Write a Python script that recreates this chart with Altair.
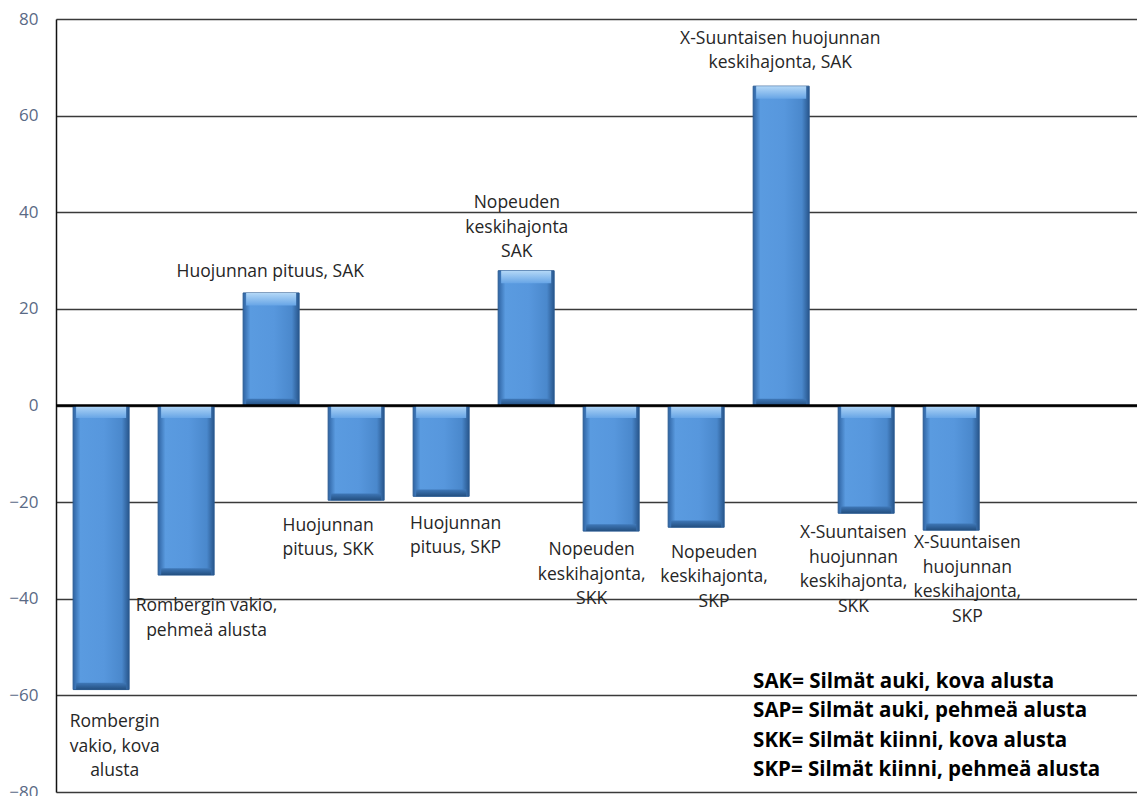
import altair as alt
import pandas as pd

# ---- data ----
positions = [1, 2, 3, 4, 5, 6, 7, 8, 9, 10, 11]
values = [-58.8, -35.1, 23.3, -19.6, -18.8, 27.9, -26.0, -25.2, 66.1, -22.3, -25.8]
labels = [
    ["Rombergin", "vakio, kova", "alusta"],
    ["Rombergin vakio,", "pehmeä alusta"],
    ["Huojunnan pituus, SAK"],
    ["Huojunnan", "pituus, SKK"],
    ["Huojunnan", "pituus, SKP"],
    ["Nopeuden", "keskihajonta", "SAK"],
    ["Nopeuden", "keskihajonta,", "SKK"],
    ["Nopeuden", "keskihajonta,", "SKP"],
    ["X-Suuntaisen huojunnan", "keskihajonta, SAK"],
    ["X-Suuntaisen", "huojunnan", "keskihajonta,", "SKK"],
    ["X-Suuntaisen", "huojunnan", "keskihajonta,", "SKP"],
]
# label anchor (category units, value units) of first text line
label_x = [1.16, 2.24, 2.99, 3.67, 5.17, 5.89, 6.77, 8.21, 8.99, 9.85, 11.19]
label_y = [-63.65, -39.65, 29.5, -23.05, -22.65, 43.75, -28.05, -28.65, 77.75, -24.55, -26.65]

legend_lines = [
    "SAK= Silmät auki, kova alusta",
    "SAP= Silmät auki, pehmeä alusta",
    "SKK= Silmät kiinni, kova alusta",
    "SKP= Silmät kiinni, pehmeä alusta",
]
legend_x = [8.67]
legend_y = [-55.2]

y_ticks = [-80, -60, -40, -20, 0, 20, 40, 60, 80]

FONT = "Open Sans"

bars_df = pd.DataFrame({"pos": positions, "value": values})
labels_df = pd.DataFrame({"lx": label_x, "ly": label_y, "text": labels})
legend_df = pd.DataFrame({"lx": legend_x, "ly": legend_y, "text": [legend_lines]})
zero_df = pd.DataFrame({"y": [0]})

xscale = alt.Scale(domain=[0.528, 13.127], nice=False, zero=False)
yscale = alt.Scale(domain=[-80, 80], nice=False)

bar_gradient = alt.Gradient(
    gradient="linear",
    x1=0, x2=1, y1=0, y2=0,
    stops=[
        alt.GradientStop(offset=0, color="#2f64a3"),
        alt.GradientStop(offset=0.13, color="#5a9be0"),
        alt.GradientStop(offset=0.55, color="#5797dd"),
        alt.GradientStop(offset=0.87, color="#4a88cc"),
        alt.GradientStop(offset=1, color="#28568c"),
    ],
)
top_gradient = alt.Gradient(
    gradient="linear",
    x1=0, x2=0, y1=0, y2=1,
    stops=[
        alt.GradientStop(offset=0, color="#b4d8f7"),
        alt.GradientStop(offset=1, color="#67a5e6"),
    ],
)
bottom_gradient = alt.Gradient(
    gradient="linear",
    x1=0, x2=0, y1=0, y2=1,
    stops=[
        alt.GradientStop(offset=0, color="#3f78b8"),
        alt.GradientStop(offset=1, color="#234f80"),
    ],
)

base = alt.Chart(bars_df)

bars = base.mark_bar(
    size=56, color=bar_gradient, stroke="#2a5b93", strokeWidth=1
).encode(
    x=alt.X("pos:Q", scale=xscale, axis=None),
    y=alt.Y(
        "value:Q",
        scale=yscale,
        axis=alt.Axis(
            values=y_ticks,
            title=None,
            grid=True,
            gridColor="#3a3a3a",
            gridWidth=1.3,
            ticks=False,
            domain=True,
            domainColor="#111111",
            domainWidth=1.5,
            labelFont=FONT,
            labelFontSize=17,
            labelColor="#5a6a86",
            labelPadding=18,
        ),
    ),
)

# bevel highlight at the top end and shade at the bottom end of each bar
top_band = base.transform_calculate(
    t="max(datum.value, 0)", t2="max(datum.value, 0) - 2.6"
).mark_bar(size=50, color=top_gradient).encode(
    x=alt.X("pos:Q", scale=xscale),
    y=alt.Y("t:Q", scale=yscale),
    y2="t2:Q",
)
bottom_band = base.transform_calculate(
    b="min(datum.value, 0)", b2="min(datum.value, 0) + 1.4"
).mark_bar(size=50, color=bottom_gradient).encode(
    x=alt.X("pos:Q", scale=xscale),
    y=alt.Y("b2:Q", scale=yscale),
    y2="b:Q",
)

zero_rule = alt.Chart(zero_df).mark_rule(color="#000000", strokeWidth=2.6).encode(
    y=alt.Y("y:Q", scale=yscale)
)

texts = alt.Chart(labels_df).mark_text(
    font=FONT, fontSize=17.5, color="#262626", align="center", baseline="top",
    lineHeight=24.5,
).encode(
    x=alt.X("lx:Q", scale=xscale),
    y=alt.Y("ly:Q", scale=yscale),
    text="text",
)

legend = alt.Chart(legend_df).mark_text(
    font=FONT, fontSize=20.5, fontWeight="bold", color="#000000", align="left",
    baseline="top", lineHeight=29.3,
).encode(
    x=alt.X("lx:Q", scale=xscale),
    y=alt.Y("ly:Q", scale=yscale),
    text="text",
)

chart = (
    alt.layer(bars, top_band, bottom_band, zero_rule, texts, legend)
    .properties(
        width=1081,
        height=773,
        autosize=alt.AutoSizeParams(type="none"),
        padding={"left": 56, "top": 19, "right": 0, "bottom": 4},
        background="#ffffff",
    )
    .configure_view(strokeWidth=0)
)

chart.save("out.html", embed_options={"renderer": "svg", "actions": False})
